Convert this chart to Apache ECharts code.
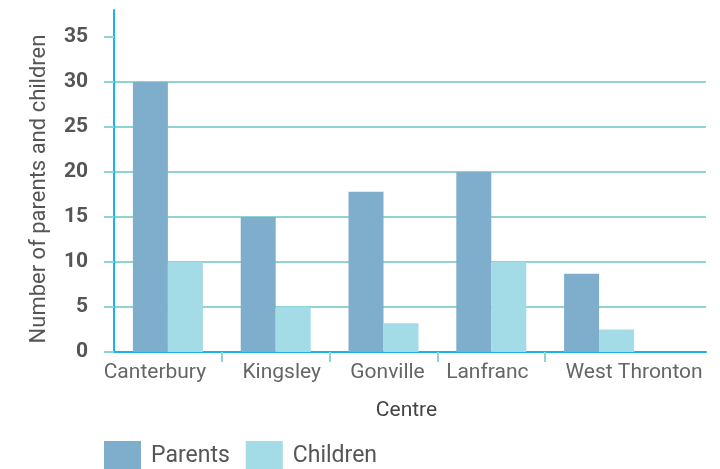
<!DOCTYPE html>
<html>
<head>
<meta charset="utf-8">
<script src="https://cdn.jsdelivr.net/npm/echarts@6/dist/echarts.min.js"></script>
<style>
  html, body { margin: 0; padding: 0; background: #fff; }
  #chart { width: 720px; height: 469px; }
</style>
</head>
<body>
<div id="chart"></div>
<script>
"use strict";

const centres = ["Canterbury", "Kingsley", "Gonville", "Lanfranc", "West Thronton"];
const parents = [30, 15, 17.8, 20, 8.7];
const children = [10, 5, 3.2, 10, 2.5];
const yTicks = [0, 5, 10, 15, 20, 25, 30, 35];
const yMax = 38;

// layout (px)
const plotLeft = 107, plotRight = 706, bandLeft = 114, bandWidth = 107.8;
const labelShift = [-13, 6, 4, -4, 35];

const AXIS = "#1ab2ea";
const GRID = "#8fd4d2";
const FONT = "Roboto, 'Noto Sans', sans-serif";

const xMinA = -(bandLeft - plotLeft) / bandWidth;
const xMaxA = (plotRight - bandLeft) / bandWidth;

const chart = echarts.init(document.getElementById("chart"));
chart.setOption({
  animation: false,
  textStyle: { fontFamily: FONT },
  legend: {
    left: 104, top: 441, padding: 0,
    itemWidth: 37, itemHeight: 30, itemGap: 16,
    icon: "rect",
    textStyle: { fontSize: 23, color: "#555", padding: [0, 0, 0, 5] },
    data: ["Parents", "Children"],
  },
  grid: [
    { left: plotLeft, right: 720 - plotRight, top: 10, bottom: 117 },
    { left: bandLeft, width: bandWidth * centres.length, top: 10, bottom: 117 },
  ],
  xAxis: [
    {
      gridIndex: 0, type: "value", min: xMinA, max: xMaxA,
      axisLine: { show: true, lineStyle: { color: AXIS, width: 2 } },
      axisTick: { show: true, customValues: [1, 2, 3, 4], length: 10, lineStyle: { color: GRID, width: 2 } },
      axisLabel: { show: false },
      splitLine: { show: false },
      name: "Centre", nameLocation: "middle", nameGap: 48,
      nameTextStyle: { fontSize: 21, color: "#444", fontFamily: FONT },
    },
    {
      gridIndex: 1, type: "category",
      data: centres.map((c, i) => ({
        value: c,
        textStyle: { padding: labelShift[i] > 0 ? [0, 0, 0, 2 * labelShift[i]] : [0, -2 * labelShift[i], 0, 0] },
      })),
      axisLine: { show: false },
      axisTick: { show: false },
      axisLabel: { interval: 0, hideOverlap: false, fontSize: 21, color: "#666", margin: 10, fontFamily: FONT },
    },
  ],
  yAxis: [
    {
      gridIndex: 0, type: "value", min: 0, max: yMax, interval: 5,
      axisLine: { show: true, lineStyle: { color: AXIS, width: 2 } },
      axisTick: { show: true, customValues: yTicks, length: 10, lineStyle: { color: GRID, width: 2 } },
      axisLabel: { customValues: yTicks, fontSize: 21, fontWeight: "bold", color: "#555", margin: 19, fontFamily: FONT },
      splitLine: { show: true, showMaxLine: false, lineStyle: { color: GRID, width: 2 } },
      name: "Number of parents and children", nameLocation: "middle", nameGap: 57,
      nameTextStyle: { fontSize: 22, color: "#555", fontFamily: FONT, padding: [0, 16, 0, 0] },
    },
    { gridIndex: 1, type: "value", min: 0, max: yMax, show: false },
  ],
  series: [
    {
      name: "Parents", type: "bar", xAxisIndex: 1, yAxisIndex: 1,
      barWidth: 35, barGap: "0%", data: parents,
      itemStyle: { color: "#7eaecc" },
    },
    {
      name: "Children", type: "bar", xAxisIndex: 1, yAxisIndex: 1,
      barWidth: 35, barGap: "0%", data: children,
      itemStyle: { color: "#a3dbe6" },
    },
  ],
});
</script>
</body>
</html>
